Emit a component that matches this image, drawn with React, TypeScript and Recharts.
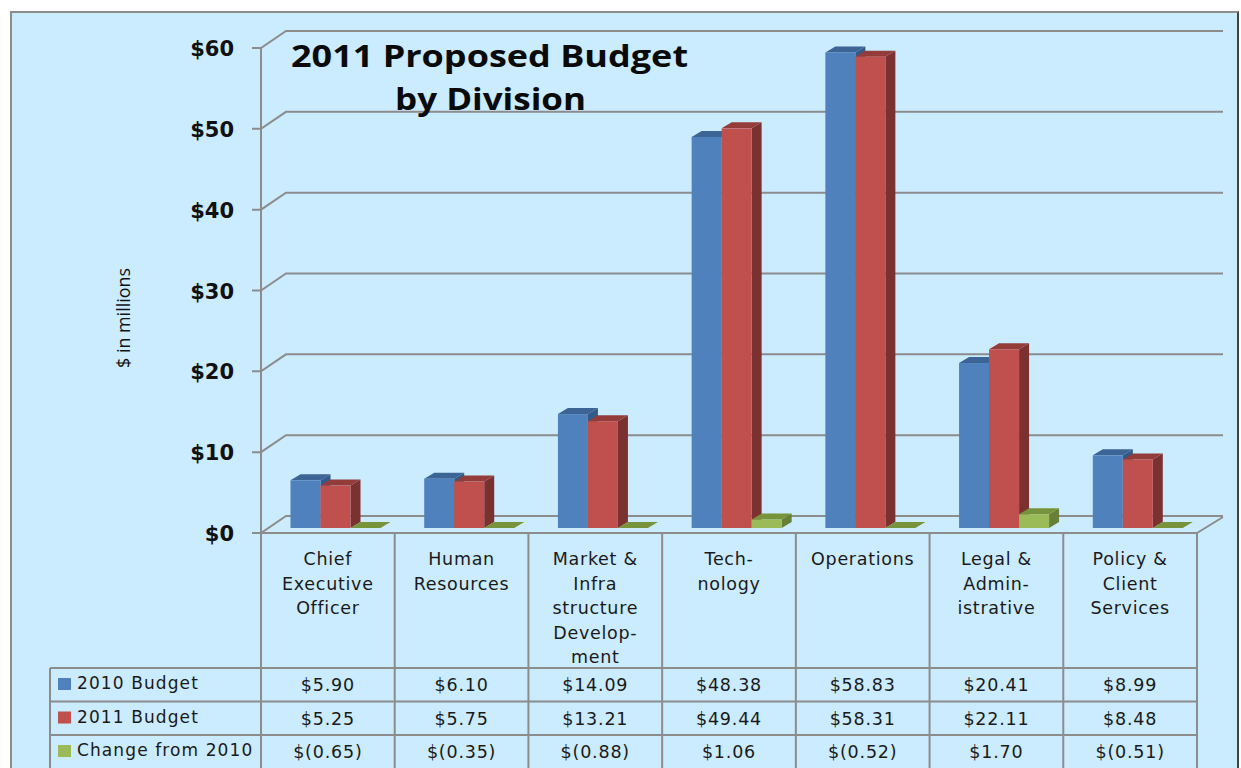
// App.tsx — 2011 proposed budget by division, fake-3D clustered columns with a data table
import { BarChart, Bar, XAxis, YAxis, CartesianGrid } from "recharts";

const categories = [
  ["Chief", "Executive", "Officer"],
  ["Human", "Resources"],
  ["Market &", "Infra", "structure", "Develop-", "ment"],
  ["Tech-", "nology"],
  ["Operations"],
  ["Legal &", "Admin-", "istrative"],
  ["Policy &", "Client", "Services"],
];
const budget2010 = [5.9, 6.1, 14.09, 48.38, 58.83, 20.41, 8.99];
const budget2011 = [5.25, 5.75, 13.21, 49.44, 58.31, 22.11, 8.48];
const change2010 = [-0.65, -0.35, -0.88, 1.06, -0.52, 1.7, -0.51];
const yTicks = [0, 10, 20, 30, 40, 50, 60];

const LINE = "#8c8c8c";
const BG = "#cbebff";
const FONT = "'DejaVu Sans', sans-serif";
const TITLE_FONT = "'Open Sans', sans-serif";

const BLUE = { front: "#4f81bd", top: "#3c6595", side: "#335a88" };
const RED = { front: "#c0504d", top: "#943c3a", side: "#7a3130" };
const GREEN = { front: "#9bbb59", top: "#77933c", side: "#677f37" };

// layout of the plot
const PLOT_LEFT = 261;
const PLOT_RIGHT = 1197;
const PLOT_TOP = 43;
const PLOT_BOTTOM = 528;
const COL_W = (PLOT_RIGHT - PLOT_LEFT) / categories.length;
const DX = 10; // bar depth
const DY = 6;
const BAR_SHIFT = 7.5; // the clusters sit right of the column centres

const data = categories.map((c, i) => ({
  name: c.join(" "),
  b2010: budget2010[i],
  b2011: budget2011[i],
  change: change2010[i],
}));

const money = (v: number) =>
  v < 0 ? `$(${Math.abs(v).toFixed(2)})` : `$${v.toFixed(2)}`;

// Bars get a top and a side face so they read as 3D columns
function box(colors: { front: string; top: string; side: string }) {
  return (props: any) => {
    const { y, width, height } = props;
    const x = props.x + BAR_SHIFT;
    const h = Math.max(height, 0);
    return (
      <g>
        <polygon
          points={`${x + width},${y} ${x + width + DX},${y - DY} ${x + width + DX},${y + h - DY} ${x + width},${y + h}`}
          fill={colors.side}
        />
        <polygon
          points={`${x},${y} ${x + DX},${y - DY} ${x + width + DX},${y - DY} ${x + width},${y}`}
          fill={colors.top}
        />
        {h > 0 && <rect x={x} y={y} width={width} height={h} fill={colors.front} />}
      </g>
    );
  };
}

// Wall gridline: runs from the front axis, back along the side, then across the back wall
function wallLine(props: any) {
  const { x1, x2, y1 } = props;
  return (
    <polyline
      key={props.key ?? y1}
      points={`${x1 - 9},${y1 + 5} ${x1},${y1 + 5} ${x1 + 25},${y1 - 12} ${x2 + 26},${y1 - 12}`}
      fill="none"
      stroke={LINE}
      strokeWidth={2}
    />
  );
}

function YTick({ y, payload }: any) {
  return (
    <text
      x={234}
      y={y + 13}
      textAnchor="end"
      fontFamily={FONT}
      fontWeight={700}
      fontSize={21}
      fill="#111"
    >
      ${payload.value}
    </text>
  );
}

function XTick({ x, index }: any) {
  return (
    <text textAnchor="middle" fontFamily={FONT} fontSize={17.5} letterSpacing={0.7} fill="#1a1a1a">
      {categories[index].map((t, i) => (
        <tspan key={t} x={x} y={565 + i * 24.5}>
          {t}
        </tspan>
      ))}
    </text>
  );
}

const rows = [
  { label: "2010 Budget", values: budget2010, color: BLUE.front },
  { label: "2011 Budget", values: budget2011, color: RED.front },
  { label: "Change from 2010", values: change2010, color: GREEN.front },
];

function DataTable() {
  const top = 668;
  const rowH = 33.5;
  return (
    <g fontFamily={FONT} fontSize={17.5} fill="#1a1a1a">
      <line x1={PLOT_LEFT} x2={PLOT_LEFT} y1={48} y2={768} stroke={LINE} strokeWidth={2} />
      <line x1={252} x2={PLOT_RIGHT} y1={533} y2={533} stroke={LINE} strokeWidth={2} />
      <line x1={PLOT_RIGHT} x2={PLOT_RIGHT + 26} y1={533} y2={517} stroke={LINE} strokeWidth={2} />
      <line x1={50} x2={50} y1={top} y2={768} stroke={LINE} strokeWidth={2} />
      {categories.map((_, i) => (
        <line
          key={i}
          x1={PLOT_LEFT + (i + 1) * COL_W}
          x2={PLOT_LEFT + (i + 1) * COL_W}
          y1={533}
          y2={768}
          stroke={LINE}
          strokeWidth={2}
        />
      ))}
      {rows.map((r, i) => {
        const y = top + i * rowH;
        return (
          <g key={r.label}>
            <line x1={50} x2={PLOT_RIGHT} y1={y} y2={y} stroke={LINE} strokeWidth={2} />
            <rect x={58} y={y + 10} width={13} height={12} fill={r.color} />
            <text x={77} y={y + 21} fontSize={17} letterSpacing={1.1}>
              {r.label}
            </text>
            {r.values.map((v, j) => (
              <text
                key={j}
                x={PLOT_LEFT + (j + 0.5) * COL_W}
                y={y + 23}
                textAnchor="middle"
                letterSpacing={0.8}
              >
                {money(v)}
              </text>
            ))}
          </g>
        );
      })}
    </g>
  );
}

export default function App() {
  return (
    <div
      style={{
        position: "absolute",
        left: 0,
        top: 0,
        width: 1241,
        height: 768,
        overflow: "hidden",
        background: "#fff",
      }}
    >
      {/* panel behind the chart */}
      <div
        style={{
          position: "absolute",
          left: 10,
          top: 11,
          width: 1225,
          height: 780,
          background: BG,
          borderLeft: `2px solid ${LINE}`,
          borderTop: `2px solid ${LINE}`,
          borderRight: "2px solid #444",
        }}
      />
      <div style={{ position: "absolute", left: 0, top: 0 }}>
        <BarChart
          width={1241}
          height={768}
          data={data}
          barCategoryGap={22}
          barGap={0}
          margin={{ top: PLOT_TOP, right: 1241 - PLOT_RIGHT, bottom: 0, left: 0 }}
        >
          <CartesianGrid vertical={false} horizontal={wallLine} />
          <XAxis
            dataKey="name"
            height={768 - PLOT_BOTTOM}
            axisLine={false}
            tickLine={false}
            interval={0}
            tick={<XTick />}
          />
          <YAxis
            width={PLOT_LEFT}
            domain={[0, 60]}
            ticks={yTicks}
            axisLine={false}
            tickLine={false}
            tick={<YTick />}
          />
          <Bar dataKey="b2010" shape={box(BLUE)} isAnimationActive={false} />
          <Bar dataKey="b2011" shape={box(RED)} isAnimationActive={false} />
          {/* the axis stops at zero, so cuts show only as a flat tile on the floor */}
          <Bar dataKey={(d: any) => Math.max(d.change, 0)} shape={box(GREEN)} isAnimationActive={false} />
          <DataTable />
          <text
            transform="translate(130 318) rotate(-90)"
            textAnchor="middle"
            fontFamily="'Open Sans', sans-serif"
            fontSize={19}
            textLength={100}
            lengthAdjust="spacingAndGlyphs"
            fill="#111"
          >
            $ in millions
          </text>
          <g fontFamily={TITLE_FONT} fontWeight={700} fontSize={31} fill="#0a0a0a">
            <text x={291} y={67} textLength={397} lengthAdjust="spacingAndGlyphs">
              2011 Proposed Budget
            </text>
            <text x={395} y={110} textLength={191} lengthAdjust="spacingAndGlyphs">
              by Division
            </text>
          </g>
        </BarChart>
      </div>
    </div>
  );
}
